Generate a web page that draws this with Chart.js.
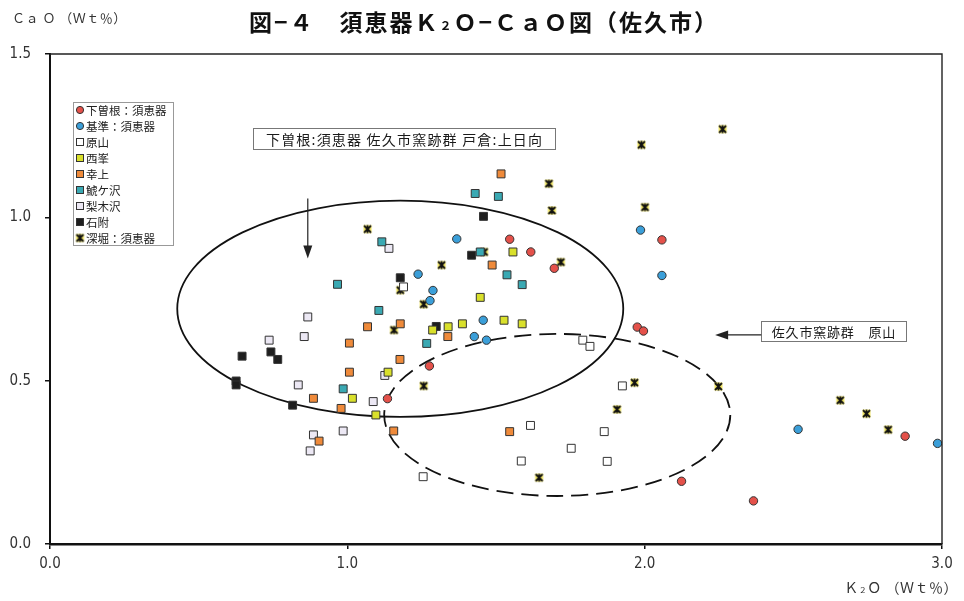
<!DOCTYPE html>
<html lang="ja">
<head>
<meta charset="utf-8">
<title>図−４ 須恵器Ｋ２Ｏ−ＣａＯ図（佐久市）</title>
<script src="https://cdn.jsdelivr.net/npm/chart.js@4/dist/chart.umd.min.js"></script>
<style>
  html, body { margin: 0; padding: 0; background: #fff; }
  #wrap { width: 964px; height: 601px; }
</style>
</head>
<body>
<div id="wrap"><canvas id="chart" width="964" height="601"></canvas></div>
<script>
// K2O (x), CaO (y) in Wt%
const seriesNames = ["下曽根：須恵器", "基準：須恵器", "原山", "西峯", "幸上", "鯱ケ沢", "梨木沢", "石附", "深堀：須恵器"];

const shimosone = [[1.135,0.445],[1.276,0.545],[1.546,0.933],[1.617,0.894],[1.696,0.844],[1.975,0.664],
  [1.996,0.652],[2.058,0.931],[2.124,0.192],[2.366,0.132],[2.876,0.330]];
const kijun = [[1.238,0.826],[1.288,0.776],[1.278,0.745],[1.368,0.934],[1.457,0.685],[1.427,0.635],
  [1.468,0.624],[1.986,0.961],[2.058,0.822],[2.516,0.351],[2.985,0.308]];
const harayama = [[1.189,0.787],[1.792,0.624],[1.816,0.605],[1.925,0.484],[1.616,0.363],[1.585,0.254],
  [1.753,0.293],[1.864,0.344],[1.874,0.253],[1.255,0.206]];
const nishimine = [[1.557,0.894],[1.447,0.755],[1.387,0.674],[1.339,0.665],[1.287,0.655],[1.527,0.685],
  [1.588,0.674],[1.137,0.526],[1.017,0.446],[1.096,0.395]];
const kojo = [[1.517,1.133],[1.487,0.854],[1.068,0.665],[1.178,0.674],[1.007,0.615],[1.177,0.565],
  [1.007,0.526],[0.886,0.446],[0.979,0.415],[1.338,0.635],[0.905,0.315],[1.156,0.346],[1.546,0.344]];
const shachigasawa = [[1.116,0.925],[0.967,0.795],[1.106,0.715],[1.267,0.614],[0.986,0.475],[1.430,1.073],
  [1.508,1.064],[1.447,0.894],[1.537,0.824],[1.588,0.794]];
const nashikizawa = [[1.140,0.905],[0.867,0.695],[0.855,0.635],[0.737,0.624],[1.126,0.516],[0.835,0.487],
  [1.087,0.436],[0.886,0.334],[0.875,0.285],[0.986,0.346]];
const ishizuku = [[1.178,0.815],[0.646,0.575],[0.743,0.588],[0.766,0.565],[0.626,0.499],[0.626,0.487],
  [0.816,0.425],[1.299,0.666],[1.458,1.003],[1.418,0.884]];
const fukabori = [[1.068,0.964],[1.178,0.777],[1.257,0.734],[1.157,0.655],[1.257,0.484],[1.317,0.854],
  [1.460,0.894],[1.678,1.103],[1.688,1.021],[1.718,0.863],[2.001,1.031],[1.989,1.222],[2.262,1.270],
  [1.966,0.494],[1.907,0.412],[1.645,0.203],[2.248,0.482],[2.658,0.440],[2.746,0.399],[2.819,0.350]];

const seriesData = [shimosone, kijun, harayama, nishimine, kojo, shachigasawa, nashikizawa, ishizuku, fukabori];

const xTicks = [0, 1, 2, 3];
const yTicks = [0, 0.5, 1.0, 1.5];

const seriesColors = ["#e4514a", "#3b9fd9", "#ffffff", "#d9e02b", "#ef8a3a", "#3aa9b3", "#ece8f4", "#1e1e1e", null];
const seriesShapes = ["circle", "circle", "rect", "rect", "rect", "rect", "rect", "rect", "star"];

// asterisk marker (Excel style) with yellow fill
function makeStar() {
  const c = document.createElement("canvas");
  c.width = 11; c.height = 11;
  const g = c.getContext("2d");
  g.fillStyle = "rgba(238,226,80,0.9)";
  g.fillRect(1.5, 1.5, 8, 8);
  g.strokeStyle = "#111";
  g.lineWidth = 1.8;
  g.beginPath();
  g.moveTo(2, 2); g.lineTo(9, 9);
  g.moveTo(9, 2); g.lineTo(2, 9);
  g.moveTo(5.5, 1.5); g.lineTo(5.5, 9.5);
  g.stroke();
  return c;
}
const starImg = makeStar();

const datasets = seriesNames.map((name, i) => {
  const shape = seriesShapes[i];
  return {
    label: name,
    data: seriesData[i].map(p => ({ x: p[0], y: p[1] })),
    pointStyle: shape === "star" ? starImg : shape,
    pointRadius: shape === "circle" ? 4.2 : 5.6,
    backgroundColor: seriesColors[i] || "transparent",
    borderColor: "#333",
    borderWidth: 1,
    showLine: false
  };
});

// annotation shapes, in data units
const solidEllipse = { cx: 1.178, cy: 0.720, rx: 0.750, ry: 0.331 };
const dashedEllipse = { cx: 1.706, cy: 0.395, rx: 0.582, ry: 0.248 };
const arrowDown = { x: 0.867, y1: 1.058, y2: 0.874 };
const arrowLeft = { y: 0.640, x1: 2.392, x2: 2.237 };

function drawMarker(ctx, i, x, y) {
  const shape = seriesShapes[i];
  ctx.save();
  ctx.lineWidth = 1;
  ctx.strokeStyle = "#333";
  ctx.fillStyle = seriesColors[i];
  if (shape === "circle") {
    ctx.beginPath();
    ctx.arc(x, y, 3.6, 0, Math.PI * 2);
    ctx.fill();
    ctx.stroke();
  } else if (shape === "rect") {
    ctx.fillRect(x - 3.5, y - 3.5, 7, 7);
    ctx.strokeRect(x - 3.5, y - 3.5, 7, 7);
  } else {
    ctx.drawImage(starImg, x - 5.5, y - 5.5);
  }
  ctx.restore();
}

// text in pieces, so the "2" of K2O can be a small subscript
function richText(ctx, segs, x, y, size, weight, spacing, align) {
  ctx.save();
  ctx.textBaseline = "alphabetic";
  ctx.textAlign = "left";
  ctx.letterSpacing = spacing + "px";
  const fontOf = s => weight + " " + Math.round(size * s.scale) + "px 'Noto Sans CJK JP'";
  let total = 0;
  segs.forEach(s => { ctx.font = fontOf(s); total += ctx.measureText(s.t).width; });
  let cx = align === "center" ? x - total / 2 : align === "right" ? x - total : x;
  segs.forEach(s => {
    ctx.font = fontOf(s);
    ctx.fillText(s.t, cx, y + (s.dy || 0) * size);
    cx += ctx.measureText(s.t).width;
  });
  ctx.restore();
}

function boxText(ctx, text, l, t, r, b, size, spacing) {
  ctx.save();
  ctx.fillStyle = "#fff";
  ctx.fillRect(l, t, r - l, b - t);
  ctx.strokeStyle = "#777";
  ctx.lineWidth = 1;
  ctx.strokeRect(l + 0.5, t + 0.5, r - l, b - t);
  ctx.fillStyle = "#1a1a1a";
  ctx.font = size + "px 'Noto Sans CJK JP'";
  ctx.letterSpacing = spacing + "px";
  ctx.textAlign = "center";
  ctx.textBaseline = "middle";
  ctx.fillText(text, (l + r) / 2 + spacing / 2, (t + b) / 2 + 1);
  ctx.restore();
}

function arrowHead(ctx, x, y, dx, dy) {
  const len = 13, w = 4.5;
  const px = -dy, py = dx;
  ctx.beginPath();
  ctx.moveTo(x, y);
  ctx.lineTo(x - dx * len + px * w, y - dy * len + py * w);
  ctx.lineTo(x - dx * len - px * w, y - dy * len - py * w);
  ctx.closePath();
  ctx.fill();
}

const decor = {
  id: "decor",
  beforeDatasetsDraw(chart) {
    const { ctx, scales: { x, y } } = chart;
    const ell = (e) => {
      const cx = x.getPixelForValue(e.cx), cy = y.getPixelForValue(e.cy);
      const rx = x.getPixelForValue(e.cx + e.rx) - cx;
      const ry = cy - y.getPixelForValue(e.cy + e.ry);
      ctx.beginPath();
      ctx.ellipse(cx, cy, rx, ry, 0, 0, Math.PI * 2);
      ctx.stroke();
    };
    ctx.save();
    ctx.strokeStyle = "#111";
    ctx.lineWidth = 1.8;
    ell(solidEllipse);
    ctx.setLineDash([17, 8]);
    ell(dashedEllipse);
    ctx.restore();
  },
  afterDraw(chart) {
    const { ctx, chartArea: a, scales: { x, y } } = chart;
    ctx.save();

    // top and right frame
    ctx.strokeStyle = "#222";
    ctx.lineWidth = 1.4;
    ctx.beginPath();
    ctx.moveTo(a.left, a.top);
    ctx.lineTo(a.right, a.top);
    ctx.lineTo(a.right, a.bottom);
    ctx.stroke();

    // titles
    ctx.fillStyle = "#111";
    richText(ctx, [
      { t: "図−４　須恵器Ｋ", scale: 1 },
      { t: "２", scale: 0.5, dy: -0.05 },
      { t: "Ｏ−ＣａＯ図（佐久市）", scale: 1 }
    ], 484, 31, 23, "bold", 2, "center");

    ctx.fillStyle = "#333";
    richText(ctx, [{ t: "Ｃａ Ｏ （Ｗｔ％）", scale: 1 }], 12, 23, 13, "normal", 0.5, "left");
    richText(ctx, [
      { t: "Ｋ", scale: 1 },
      { t: "２", scale: 0.55 },
      { t: "Ｏ （Ｗｔ％）", scale: 1 }
    ], 958, 593, 14, "normal", 0.5, "right");

    // legend
    const lg = { l: 73, t: 102, r: 173, b: 245 };
    ctx.fillStyle = "#fff";
    ctx.fillRect(lg.l, lg.t, lg.r - lg.l, lg.b - lg.t);
    ctx.strokeStyle = "#999";
    ctx.lineWidth = 1;
    ctx.strokeRect(lg.l + 0.5, lg.t + 0.5, lg.r - lg.l, lg.b - lg.t);
    ctx.font = "11.5px 'Noto Sans CJK JP'";
    ctx.textAlign = "left";
    ctx.textBaseline = "middle";
    seriesNames.forEach((name, i) => {
      const ly = 110 + i * 16;
      drawMarker(ctx, i, 80, ly);
      ctx.fillStyle = "#222";
      ctx.fillText(name, 86, ly + 0.5);
    });

    // label boxes
    boxText(ctx, "下曽根:須恵器 佐久市窯跡群 戸倉:上日向", 253, 128, 555, 149, 14, 1.2);
    boxText(ctx, "佐久市窯跡群　原山", 761, 321, 906, 341, 13, 0.8);

    // arrows
    ctx.strokeStyle = "#222";
    ctx.fillStyle = "#222";
    ctx.lineWidth = 1.2;
    const ax = x.getPixelForValue(arrowDown.x);
    const ay1 = y.getPixelForValue(arrowDown.y1), ay2 = y.getPixelForValue(arrowDown.y2);
    ctx.beginPath();
    ctx.moveTo(ax, ay1);
    ctx.lineTo(ax, ay2 - 8);
    ctx.stroke();
    arrowHead(ctx, ax, ay2, 0, 1);

    const by = y.getPixelForValue(arrowLeft.y);
    const bx1 = x.getPixelForValue(arrowLeft.x1), bx2 = x.getPixelForValue(arrowLeft.x2);
    ctx.beginPath();
    ctx.moveTo(bx1, by);
    ctx.lineTo(bx2 + 8, by);
    ctx.stroke();
    arrowHead(ctx, bx2, by, -1, 0);

    ctx.restore();
  }
};

const tickFont = { family: "'Liberation Sans Narrow', 'DejaVu Sans Condensed', sans-serif", size: 15 };

new Chart(document.getElementById("chart"), {
  type: "scatter",
  data: { datasets },
  options: {
    responsive: false,
    animation: false,
    layout: { padding: { left: 0, top: 54, right: 22, bottom: 0 } },
    plugins: { legend: { display: false }, tooltip: { enabled: false } },
    scales: {
      x: {
        type: "linear", min: 0, max: 3,
        afterBuildTicks: s => { s.ticks = xTicks.map(v => ({ value: v })); },
        afterFit: s => { s.height = 57; },
        grid: { drawOnChartArea: false, drawTicks: true, tickLength: 5, color: "#111", lineWidth: 1.5 },
        border: { color: "#111", width: 2.5 },
        ticks: { font: tickFont, color: "#333", padding: 6, maxRotation: 0, callback: v => Number(v).toFixed(1) }
      },
      y: {
        type: "linear", min: 0, max: 1.5,
        afterBuildTicks: s => { s.ticks = yTicks.map(v => ({ value: v })); },
        afterFit: s => { s.width = 50; },
        grid: { drawOnChartArea: false, drawTicks: true, tickLength: 5, color: "#111", lineWidth: 1.5 },
        border: { color: "#111", width: 2 },
        ticks: { font: tickFont, color: "#333", padding: 14, callback: v => Number(v).toFixed(1) }
      }
    }
  },
  plugins: [decor]
});
</script>
</body>
</html>
